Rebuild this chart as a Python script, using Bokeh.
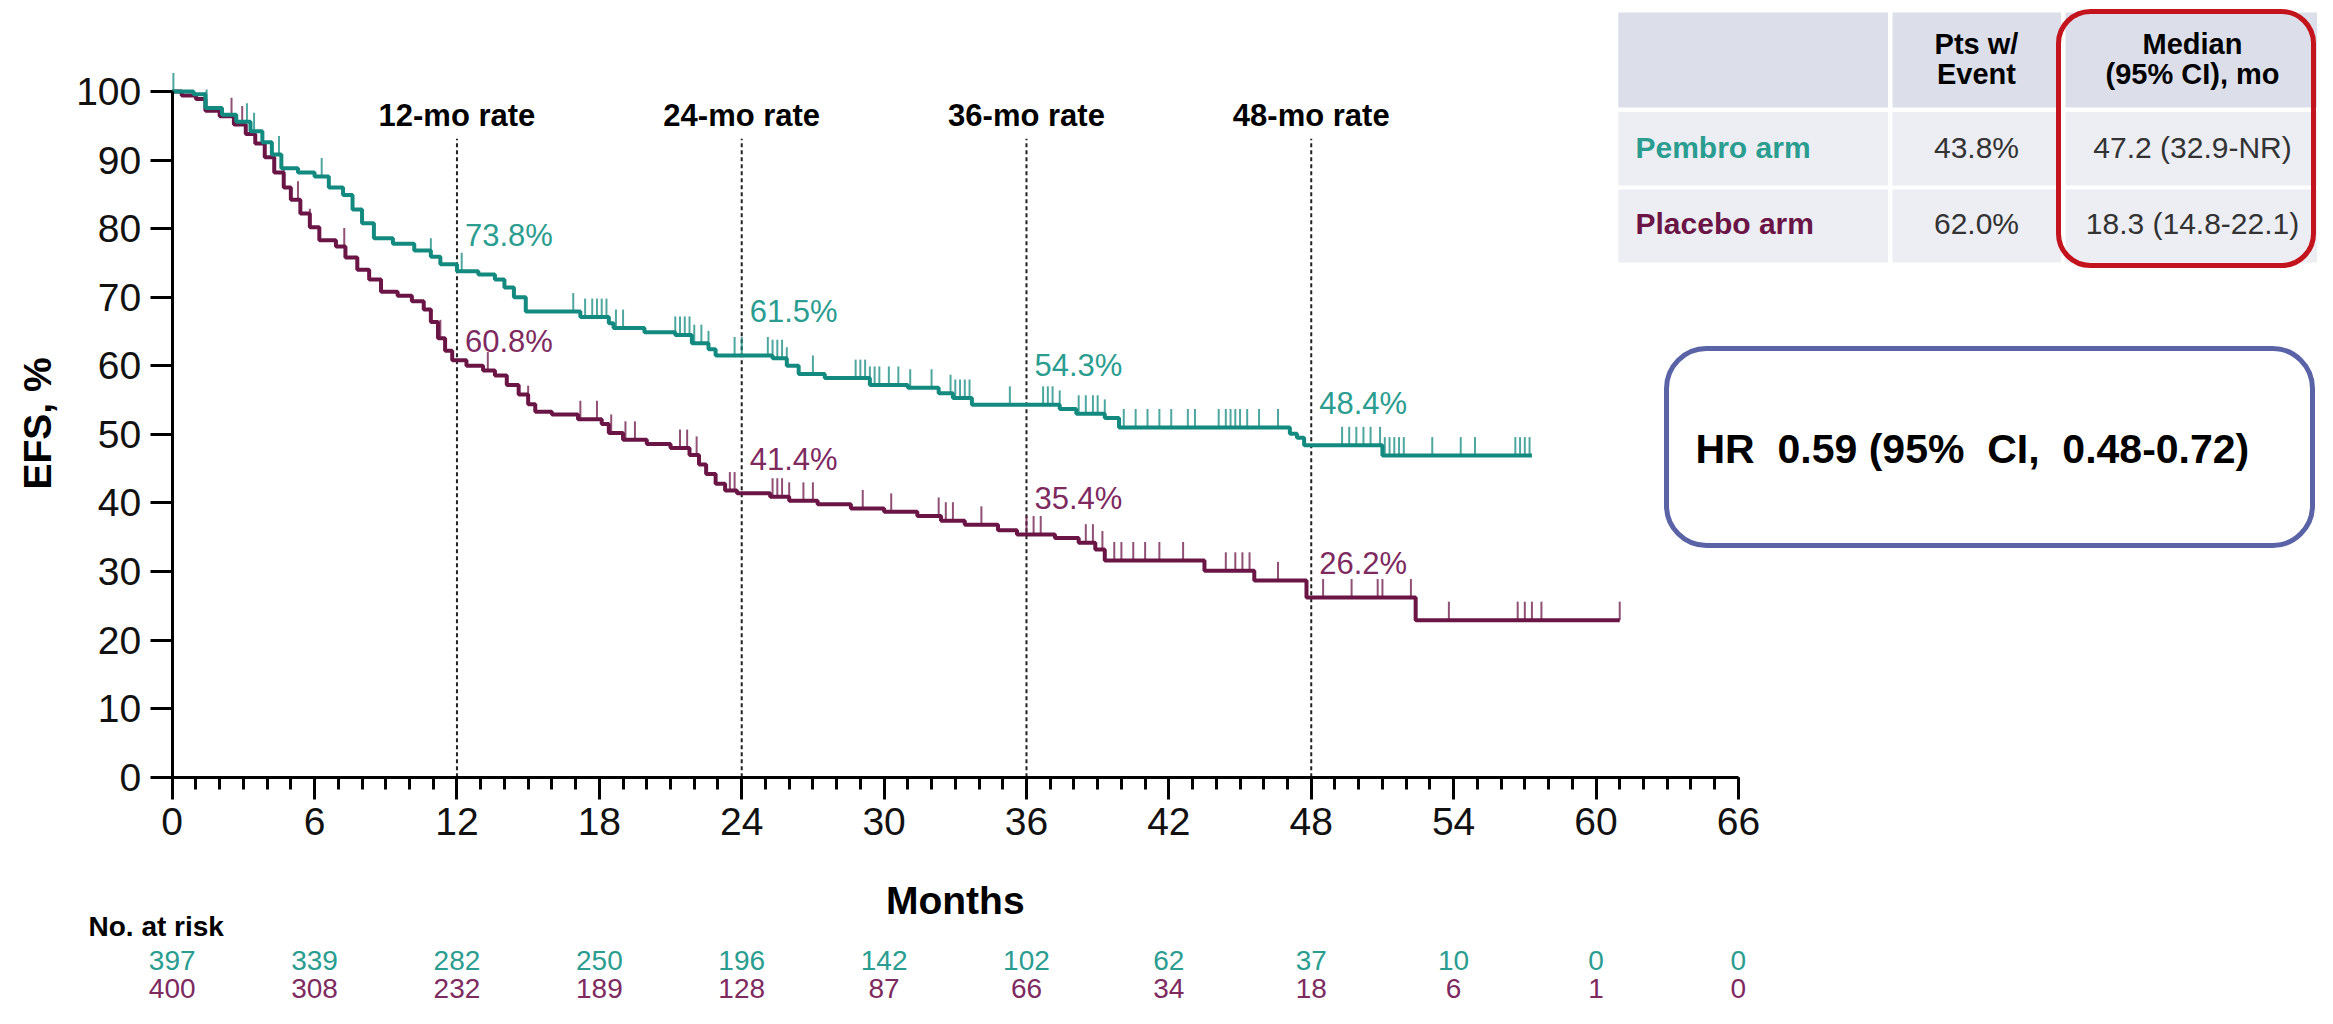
import math
import numpy as np
from bokeh.plotting import figure
from bokeh.models import Range1d, SingleIntervalTicker, BoxAnnotation, LinearAxis
from bokeh.core.properties import value
from bokeh.embed import file_html
from bokeh.resources import INLINE

# ---------------- data ----------------
pembro_t = [0, 0.9, 1.4, 2.1, 2.7, 3.3, 3.8, 4.2, 4.6, 5.3, 6.0, 6.6, 7.2, 7.6, 8.0, 8.5,
            9.3, 10.2, 10.9, 11.3, 12.0, 12.9, 13.6, 14.0, 14.4, 14.9, 17.2, 18.4, 18.6,
            19.9, 21.2, 21.9, 22.6, 22.9, 25.3, 25.9, 26.4, 27.5, 29.4, 31.0, 32.3, 32.9,
            33.7, 37.4, 38.1, 39.3, 39.9, 47.1, 47.4, 47.7, 51.0, 57.3]
pembro_s = [100, 99.6, 97.6, 96.6, 95.6, 94.2, 92.6, 90.8, 88.8, 88.2, 87.6, 86.0, 84.9,
            82.8, 80.8, 78.6, 77.8, 76.8, 75.9, 74.8, 73.8, 73.3, 72.6, 71.4, 70.0, 67.9,
            67.1, 66.2, 65.5, 64.9, 64.5, 63.3, 62.4, 61.5, 61.1, 60.0, 58.8, 58.2, 57.2,
            56.8, 56.0, 55.3, 54.3, 53.7, 53.0, 52.4, 51.0, 50.1, 49.5, 48.4, 46.9, 46.9]

placebo_t = [0, 0.4, 1.0, 1.4, 2.0, 2.6, 3.1, 3.5, 3.9, 4.3, 4.7, 5.0, 5.4, 5.8, 6.2, 6.9,
             7.3, 7.8, 8.3, 8.8, 9.5, 10.1, 10.6, 10.9, 11.2, 11.5, 11.8, 12.4, 13.1, 13.6,
             14.1, 14.6, 15.0, 15.3, 16.0, 17.1, 18.1, 18.4, 19.0, 20.0, 21.0, 21.8, 22.2,
             22.5, 22.9, 23.3, 23.8, 25.2, 26.0, 27.2, 28.6, 30.0, 31.4, 32.4, 33.4, 34.8,
             35.6, 37.2, 38.2, 38.9, 39.3, 43.5, 45.6, 47.8, 52.4, 61.0]
placebo_s = [100, 99.4, 98.9, 97.2, 96.4, 95.2, 93.8, 92.4, 90.4, 88.2, 86.0, 84.2, 82.2,
             80.2, 78.3, 77.4, 75.8, 74.0, 72.6, 70.8, 70.2, 69.4, 68.2, 66.4, 64.0, 62.2,
             60.8, 60.0, 59.3, 58.6, 57.2, 55.8, 54.4, 53.3, 52.9, 52.2, 51.5, 50.2, 49.2,
             48.6, 48.0, 47.0, 45.6, 44.2, 42.8, 41.8, 41.4, 40.9, 40.3, 39.8, 39.2, 38.7,
             38.1, 37.4, 36.8, 36.0, 35.4, 34.9, 34.2, 33.2, 31.6, 30.1, 28.7, 26.2, 22.9,
             22.9]

pembro_censor = [0.05, 1.45, 3.15, 3.45, 4.5, 6.3, 10.9, 12.2, 16.9, 17.4, 17.7, 17.9, 18.1,
                 18.3, 18.7, 19.0, 21.2, 21.4, 21.6, 21.8, 22.0, 22.3, 22.6, 23.7, 24.0, 25.1,
                 25.3, 25.5, 25.7, 25.9, 27.0, 28.8, 29.0, 29.2, 29.4, 29.6, 29.8, 30.2, 30.6,
                 31.1, 32.0, 32.8, 33.0, 33.2, 33.4, 33.6, 35.3, 36.7, 36.9, 37.1, 37.4, 38.2,
                 38.5, 38.8, 39.0, 39.3, 40.1, 40.6, 41.1, 41.6, 42.1, 42.8, 43.1, 44.1, 44.4,
                 44.6, 44.8, 45.0, 45.3, 45.8, 46.6, 49.3, 49.6, 49.9, 50.2, 50.5, 50.9, 51.1,
                 51.3, 51.5, 51.7, 51.9, 53.1, 54.3, 54.9, 56.6, 56.8, 57.0, 57.2]
placebo_censor = [1.4, 2.5, 2.95, 4.7, 5.3, 5.8, 7.25, 11.3, 13.3, 15.0, 17.2, 17.9, 18.5,
                  19.1, 19.5, 21.4, 21.7, 22.1, 23.5, 23.7, 25.3, 25.5, 25.7, 26.0, 26.6, 27.0,
                  29.1, 30.3, 32.3, 32.6, 32.9, 34.1, 36.0, 36.3, 36.6, 38.5, 38.8, 39.2, 39.7,
                  40.0, 40.5, 41.0, 41.6, 42.6, 44.4, 44.8, 45.1, 45.4, 46.6, 48.5, 49.7, 50.8,
                  51.0, 52.2, 53.8, 56.7, 57.0, 57.3, 57.7, 61.0]

rate_months = [12, 24, 36, 48]
rate_titles = ["12-mo rate", "24-mo rate", "36-mo rate", "48-mo rate"]
pembro_rates = [73.8, 61.5, 54.3, 48.4]
placebo_rates = [60.8, 41.4, 35.4, 26.2]

risk_months = [0, 6, 12, 18, 24, 30, 36, 42, 48, 54, 60, 66]
pembro_risk = [397, 339, 282, 250, 196, 142, 102, 62, 37, 10, 0, 0]
placebo_risk = [400, 308, 232, 189, 128, 87, 66, 34, 18, 6, 1, 0]

table_header = ["", "Pts w/\nEvent", "Median\n(95% CI), mo"]
table_arms = ["Pembro arm", "Placebo arm"]
table_events = ["43.8%", "62.0%"]
table_medians = ["47.2 (32.9-NR)", "18.3 (14.8-22.1)"]
hr_text = "HR\u00a0 0.59 (95%\u00a0 CI,\u00a0 0.48-0.72)"

# ---------------- style / layout ----------------
TEAL = "#138a7f"
TEAL_TXT = "#2a9d90"
PURP = "#6b1547"
PURP_TXT = "#7e2a5f"
SANS = "Liberation Sans"

W, H = 2317, 1008
X0, Y0 = 171.7, 776.7          # canvas px of data origin
PXM, PXP = 23.73, 6.857        # px per month, px per percent


def fx(px):  # picture px -> data x
    return (px - X0) / PXM


def fy(py):  # picture px -> data y
    return (Y0 - py) / PXP


p = figure(width=W, height=H, output_backend="svg", toolbar_location=None,
           x_range=Range1d(-X0 / PXM, (W - X0) / PXM),
           y_range=Range1d(-(H - Y0) / PXP, Y0 / PXP),
           x_axis_location=None, y_axis_location=None, min_border=0)
p.outline_line_color = None
p.grid.grid_line_color = None
p.background_fill_color = "white"
p.border_fill_color = "white"

xaxis = LinearAxis(fixed_location=0, bounds=(0, 66),
                   ticker=SingleIntervalTicker(interval=6, num_minor_ticks=6))
yaxis = LinearAxis(fixed_location=0, bounds=(0, 100),
                   ticker=SingleIntervalTicker(interval=10, num_minor_ticks=0))
for ax in (xaxis, yaxis):
    ax.axis_line_width = 3
    ax.axis_line_color = "black"
    ax.major_tick_line_width = 3
    ax.major_tick_line_color = "black"
    ax.major_tick_out = 22
    ax.major_tick_in = 0
    ax.minor_tick_line_width = 3
    ax.minor_tick_line_color = "black"
    ax.minor_tick_out = 12
    ax.minor_tick_in = 0
    ax.major_label_text_font = SANS
    ax.major_label_text_font_size = "39px"
    ax.major_label_text_color = "#111111"
    ax.major_label_standoff = 9
yaxis.minor_tick_line_color = None
p.add_layout(xaxis, "below")
p.add_layout(yaxis, "left")

# dashed reference lines
p.segment(x0=rate_months, y0=[0] * 4, x1=rate_months, y1=[93.1] * 4,
          line_color="#222222", line_width=2, line_dash="4 3")
p.text(x=rate_months, y=[fy(114.6)] * 4, text=rate_titles, text_align="center",
       text_baseline="middle", text_font=value(SANS), text_font_style="bold",
       text_font_size=value("31px"), text_color="black")

# KM curves and censor marks
for t, s, cens, col in ((placebo_t, placebo_s, placebo_censor, PURP),
                        (pembro_t, pembro_s, pembro_censor, TEAL)):
    p.step(t, s, mode="after", line_color=col, line_width=4)
    ta = np.array(t)
    sa = np.array(s)
    idx = np.searchsorted(ta, np.array(cens), side="right") - 1
    base = sa[idx]
    p.segment(x0=cens, y0=base, x1=cens, y1=base + 2.7, line_color=col,
              line_width=2, line_alpha=0.75)

# rate labels
pembro_dy = [5.2, 6.4, 5.8, 6.1]
placebo_dy = [2.7, 5.0, 5.2, 5.0]
p.text(x=rate_months, y=[r + d for r, d in zip(pembro_rates, pembro_dy)],
       text=[f"{r:.1f}%" for r in pembro_rates], x_offset=8, text_align="left",
       text_baseline="middle", text_font=value(SANS), text_font_size=value("31px"),
       text_color=TEAL_TXT)
p.text(x=rate_months, y=[r + d for r, d in zip(placebo_rates, placebo_dy)],
       text=[f"{r:.1f}%" for r in placebo_rates], x_offset=8, text_align="left",
       text_baseline="middle", text_font=value(SANS), text_font_size=value("31px"),
       text_color=PURP_TXT)

# axis titles
p.text(x=[fx(37)], y=[fy(423)], text=["EFS, %"], angle=math.pi / 2, text_align="center",
       text_baseline="middle", text_font=value(SANS), text_font_style="bold",
       text_font_size=value("39px"), text_color="black")
p.text(x=[33], y=[fy(900)], text=["Months"], text_align="center",
       text_baseline="middle", text_font=value(SANS), text_font_style="bold",
       text_font_size=value("39px"), text_color="black")

# number at risk
p.text(x=[fx(88)], y=[fy(926)], text=["No. at risk"], text_align="left",
       text_baseline="middle", text_font=value(SANS), text_font_style="bold",
       text_font_size=value("28px"), text_color="black")
p.text(x=risk_months, y=[fy(960)] * len(risk_months), text=[str(v) for v in pembro_risk],
       text_align="center", text_baseline="middle", text_font=value(SANS),
       text_font_size=value("28px"), text_color=TEAL_TXT)
p.text(x=risk_months, y=[fy(988)] * len(risk_months), text=[str(v) for v in placebo_risk],
       text_align="center", text_baseline="middle", text_font=value(SANS),
       text_font_size=value("28px"), text_color=PURP_TXT)

# summary table
col_edges = [(1617.8, 1887.5), (1892.0, 2060.5), (2065.0, 2317.0)]
row_edges = [(12.0, 107.0), (111.5, 185.0), (189.0, 262.0)]
lefts, rights, tops, bottoms, fills = [], [], [], [], []
for ri, (ry0, ry1) in enumerate(row_edges):
    for (cx0, cx1) in col_edges:
        lefts.append(fx(cx0)); rights.append(fx(cx1))
        tops.append(fy(ry0)); bottoms.append(fy(ry1))
        fills.append("#dcdfea" if ri == 0 else "#eceef4")
p.quad(left=lefts, right=rights, top=tops, bottom=bottoms, fill_color=fills, line_color=None)

col_cx = [fx(1976), fx(2192)]
p.text(x=col_cx, y=[fy(43)] * 2, text=[h.split("\n")[0] for h in table_header[1:]],
       text_align="center", text_baseline="middle", text_font=value(SANS),
       text_font_style="bold", text_font_size=value("29px"), text_color="black")
p.text(x=col_cx, y=[fy(73)] * 2, text=[h.split("\n")[1] for h in table_header[1:]],
       text_align="center", text_baseline="middle", text_font=value(SANS),
       text_font_style="bold", text_font_size=value("29px"), text_color="black")
row_cy = [fy(147), fy(223)]
p.text(x=[fx(1635)] * 2, y=row_cy, text=table_arms, text_align="left",
       text_baseline="middle", text_font=value(SANS), text_font_style="bold",
       text_font_size=value("30px"), text_color=[TEAL_TXT, PURP])
p.text(x=[col_cx[0]] * 2, y=row_cy, text=table_events, text_align="center",
       text_baseline="middle", text_font=value(SANS), text_font_size=value("30px"),
       text_color="#333333")
p.text(x=[col_cx[1]] * 2, y=row_cy, text=table_medians, text_align="center",
       text_baseline="middle", text_font=value(SANS), text_font_size=value("30px"),
       text_color="#333333")

p.add_layout(BoxAnnotation(left=fx(2058), right=fx(2313), top=fy(11), bottom=fy(265),
                           fill_alpha=0, line_color="#c3141e", line_alpha=1, line_width=5,
                           border_radius=32))

# HR box
p.add_layout(BoxAnnotation(left=fx(1666), right=fx(2312), top=fy(348), bottom=fy(545),
                           fill_color="white", fill_alpha=1, line_color="#5963a6",
                           line_alpha=1, line_width=5, border_radius=40, level="underlay"))
p.text(x=[fx(1695)], y=[fy(448)], text=[hr_text], text_align="left", text_baseline="middle",
       text_font=value(SANS), text_font_style="bold", text_font_size=value("41px"),
       text_color="black")

open("out.html", "w").write(file_html(p, INLINE))
